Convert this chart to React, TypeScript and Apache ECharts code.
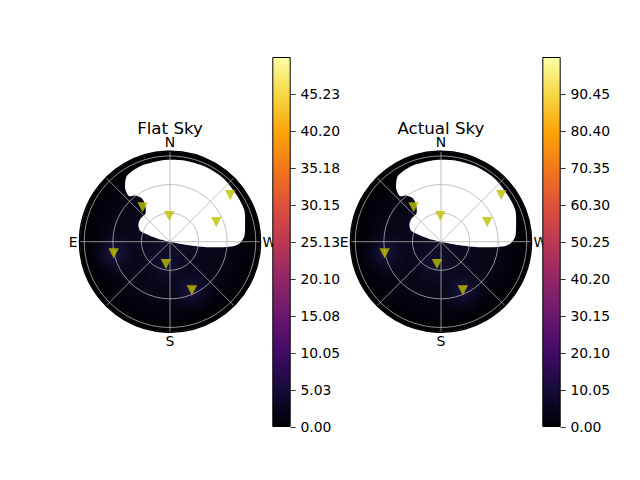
import React, { useEffect, useRef } from 'react';
import * as echarts from 'echarts';

const FONT = 'DejaVu Sans';
const TITLES = ['Flat Sky', 'Actual Sky'];
const DIRECTION_VALUES = [0, 90, 180, 270];
const DIRECTION_LABELS = ['N', 'E', 'S', 'W'];
const RADIUS_MAX = 95;

// stars: zenith distance (deg) and azimuth (deg, N=0, E=90)
const STAR_ZENITH = [46.3, 27.1, 80.0, 52.8, 60.4, 23.9, 55.9];
const STAR_AZIMUTH = [38.4, 1.6, 307.7, 293.2, 101.7, 169.8, 204.2];

// masked (white) region outline
const MASK_AZIMUTH = [0, 76, 70, 62, 53, 41, 34, 33, 37, 42, 40, 34, 28, 19, 7, 0, 350, 335, 320, 305, 293, 281, 274, 269, 266, 262, 259];
const MASK_ZENITH = [0, 14, 33, 37.6, 39.3, 39.2, 46.6, 54.4, 60.7, 64.5, 73.3, 82, 84, 85.3, 85.7, 86, 86.5, 87, 87, 85.5, 84.8, 80.3, 78.2, 73.5, 66.6, 42.4, 17.9];

// faint brightness around some stars
const GLOW_ZENITH = [60.4, 55.9, 23.9];
const GLOW_AZIMUTH = [101.7, 204.2, 169.8];
const GLOW_LEVEL_FLAT = [0.55, 0.5, 0.3];
const GLOW_LEVEL_ACTUAL = [0.5, 0.5, 0.3];

const CBAR_MAX = [50.255, 100.5];
const CBAR_LABELS_FLAT = ['0.00', '5.03', '10.05', '15.08', '20.10', '25.13', '30.15', '35.18', '40.20', '45.23'];
const CBAR_LABELS_ACTUAL = ['0.00', '10.05', '20.10', '30.15', '40.20', '50.25', '60.30', '70.35', '80.40', '90.45'];

const INFERNO = ['#000004', '#160b39', '#420a68', '#6a176e', '#932667', '#bc3754', '#dd513a', '#f37819', '#fca50a', '#f6d746', '#fcffa4'];

const CENTERS = [[170, 241.7], [441, 241.7]];
const POLAR_RADIUS = 90.5;
const CBAR_LEFT = [272.3, 542.3];

export default function App() {
  const ref = useRef<HTMLDivElement>(null);
  useEffect(() => {
    const chart = echarts.init(ref.current!, null, { renderer: 'svg' });
    const glowLevels = [GLOW_LEVEL_FLAT, GLOW_LEVEL_ACTUAL];
    const cbarLabels = [CBAR_LABELS_FLAT, CBAR_LABELS_ACTUAL];

    const makeSky = (idx: number) => ({
      type: 'custom',
      coordinateSystem: 'polar',
      polarIndex: idx,
      silent: true,
      z: 1,
      clip: false,
      data: [[0, 0]],
      renderItem: (_params: any, api: any) => {
        const c = api.coord([0, 0]);
        const e = api.coord([RADIUS_MAX, 90]);
        const R = Math.hypot(e[0] - c[0], e[1] - c[1]);
        const children: any[] = [];
        children.push({
          type: 'circle',
          shape: { cx: c[0], cy: c[1], r: R },
          style: {
            fill: new echarts.graphic.RadialGradient(0.5, 0.5, 0.5, [
              { offset: 0, color: '#0c0b24' },
              { offset: 0.6, color: '#070616' },
              { offset: 0.9, color: '#010108' },
              { offset: 1, color: '#000004' },
            ]),
          },
        });
        GLOW_ZENITH.forEach((z, k) => {
          const p = api.coord([z, GLOW_AZIMUTH[k]]);
          const a = glowLevels[idx][k];
          children.push({
            type: 'circle',
            shape: { cx: p[0], cy: p[1], r: 24 },
            style: {
              fill: new echarts.graphic.RadialGradient(0.5, 0.5, 0.5, [
                { offset: 0, color: `rgba(50,38,112,${a})` },
                { offset: 1, color: 'rgba(20,14,60,0)' },
              ]),
            },
          });
        });
        children.push({
          type: 'polygon',
          shape: {
            points: MASK_ZENITH.map((z, k) => api.coord([z, MASK_AZIMUTH[k]])),
            smooth: 0.25,
          },
          style: { fill: '#ffffff' },
        });
        return { type: 'group', children };
      },
    });

    const option: any = {
      animation: false,
      textStyle: { fontFamily: FONT },
      polar: CENTERS.map((c) => ({ center: c, radius: POLAR_RADIUS })),
      angleAxis: [0, 1].map((i) => ({
        polarIndex: i,
        type: 'value',
        min: 0,
        max: 360,
        interval: 45,
        startAngle: 90,
        clockwise: false,
        z: 6,
        axisLine: { show: true, lineStyle: { color: '#000', width: 1.5 } },
        axisTick: { show: false },
        axisLabel: {
          show: true,
          margin: 2,
          fontSize: 13.9,
          color: '#000',
          fontFamily: FONT,
          formatter: (v: number) => {
            const k = DIRECTION_VALUES.indexOf(v);
            return k >= 0 ? DIRECTION_LABELS[k] : '';
          },
        },
        splitLine: { show: true, lineStyle: { color: '#b0b0b0', width: 0.8 } },
      })),
      radiusAxis: [0, 1].map((i) => ({
        polarIndex: i,
        type: 'value',
        min: 0,
        max: RADIUS_MAX,
        interval: 30,
        z: 5,
        axisLine: { show: false },
        axisTick: { show: false },
        axisLabel: { show: false },
        splitLine: { show: true, lineStyle: { color: '#b0b0b0', width: 0.8 } },
      })),
      grid: [0, 1].map((i) => ({ left: CBAR_LEFT[i], top: 57, width: 18.4, height: 370 })),
      xAxis: [0, 1].map((i) => ({ gridIndex: i, type: 'category', data: [''], show: false })),
      yAxis: [0, 1].map((i) => {
        const vals = cbarLabels[i].map((s) => parseFloat(s));
        return {
          gridIndex: i,
          type: 'value',
          position: 'right',
          min: 0,
          max: CBAR_MAX[i],
          axisLine: { show: false },
          splitLine: { show: false },
          axisTick: { show: true, length: 5, customValues: vals, lineStyle: { color: '#000', width: 0.8 } },
          axisLabel: {
            customValues: vals,
            margin: 9.7,
            fontSize: 13.9,
            color: '#000',
            fontFamily: FONT,
            formatter: (v: number) => {
              const k = vals.indexOf(v);
              return k >= 0 ? cbarLabels[i][k] : '';
            },
          },
        };
      }),
      graphic: TITLES.map((t, i) => ({
        type: 'text',
        x: CENTERS[i][0],
        y: 128.8,
        style: {
          text: t,
          fontSize: 16.67,
          fontFamily: FONT,
          fill: '#000',
          align: 'center',
          verticalAlign: 'middle',
        },
      })),
      series: [
        makeSky(0),
        makeSky(1),
        ...[0, 1].map((i) => ({
          type: 'scatter',
          coordinateSystem: 'polar',
          polarIndex: i,
          z: 10,
          symbol: 'triangle',
          symbolRotate: 180,
          symbolSize: [10.5, 10],
          itemStyle: { color: '#bfbf00' },
          data: STAR_ZENITH.map((z, k) => [z, STAR_AZIMUTH[k]]),
        })),
        ...[0, 1].map((i) => ({
          type: 'bar',
          xAxisIndex: i,
          yAxisIndex: i,
          barWidth: '100%',
          z: 20,
          silent: true,
          data: [CBAR_MAX[i]],
          itemStyle: {
            color: new echarts.graphic.LinearGradient(
              0, 1, 0, 0,
              INFERNO.map((c, k) => ({ offset: k / (INFERNO.length - 1), color: c }))
            ),
            borderColor: '#000',
            borderWidth: 1,
          },
        })),
      ],
    };
    chart.setOption(option);
    return () => chart.dispose();
  }, []);
  return <div ref={ref} style={{ position: 'fixed', left: 0, top: 0, width: 640, height: 480, background: '#fff' }} />;
}
